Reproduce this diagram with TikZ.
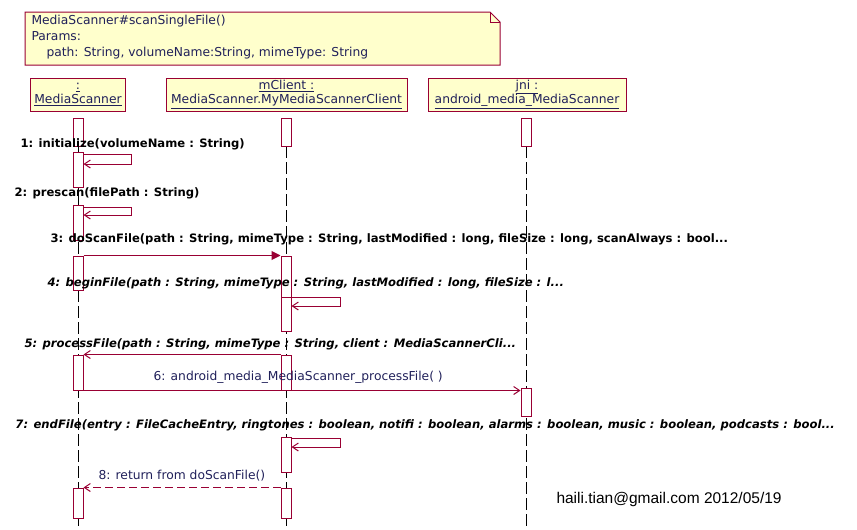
\documentclass[tikz,border=0pt]{standalone}
\usepackage{fontspec}
\setmainfont{DejaVu Sans}
\usetikzlibrary{arrows.meta}
\definecolor{ln}{HTML}{990033}
\definecolor{bx}{HTML}{FFFFCC}
\definecolor{tx}{HTML}{20205A}
\begin{document}
\begin{tikzpicture}[x=1pt,y=-1pt,line width=1pt,
  hd/.style={draw=ln,fill=bx,minimum height=33pt,inner sep=1pt,align=center,font=\fontsize{12.3}{14}\selectfont,text=tx},
  act/.style={draw=ln,fill=white,minimum width=10pt,inner sep=0pt},
  life/.style={black,dash pattern=on 12pt off 4pt},
  msg/.style={ln,-{Straight Barb[length=6pt,width=8pt]}},
  call/.style={ln,-{Triangle[length=9pt,width=9pt]}},
  lbl/.style={anchor=base west,inner sep=0pt,font=\fontsize{11.6}{13}\selectfont\bfseries},
  lbli/.style={lbl,font=\fontsize{11.6}{13}\selectfont\bfseries\itshape},
  lblr/.style={lbl,font=\fontsize{12.3}{14}\selectfont,text=tx}]
\useasboundingbox (0,0) rectangle (857,530);
% note
\draw[ln,fill=bx] (25,12) -- (490,12) -- (500,22) -- (500,65) -- (25,65) -- cycle;
\draw[ln] (490,12) -- (490,22) -- (500,22);
\node[anchor=north west,align=left,inner sep=0pt,font=\fontsize{12.3}{16}\selectfont,text=tx] (note) at (31,15)
 {MediaScanner\#scanSingleFile()\\Params:\\\hspace*{15pt}path: String, volumeName:String, mimeType: String};
% heads
\node[hd,minimum width=95pt] (h1) at (78,94.5) {\underline{:}\\\underline{MediaScanner}};
\node[hd,minimum width=241pt] (h2) at (286.5,94.5) {\underline{mClient :}\\\underline{MediaScanner.MyMediaScannerClient}};
\node[hd,minimum width=198pt] (h3) at (527,94.5) {\underline{jni :}\\\underline{android\_media\_MediaScanner}};
% lifelines
\coordinate (e1) at (78,530); \coordinate (e2) at (286,530); \coordinate (e3) at (526,530);
\draw[life] (78,146) -- (e1);
\draw[life] (286,146) -- (e2);
\draw[life] (526,146) -- (e3);
% top boxes
\node[act,minimum height=28pt] (t1) at (78,132) {};
\node[act,minimum height=28pt] (t2) at (286,132) {};
\node[act,minimum height=28pt] (t3) at (526,132) {};
% activations MediaScanner
\node[act,minimum height=35pt] (a1) at (78,169.5) {};
\node[act,minimum height=35pt] (a2) at (78,222.5) {};
\node[act,minimum height=34pt] (a3) at (78,273) {};
\node[act,minimum height=35pt] (a5) at (78,372.5) {};
\node[act,minimum height=30pt] (a8) at (78,503) {};
% mClient
\node[act,minimum height=41pt] (b3) at (286,276.5) {};
\node[act,minimum height=34pt] (b4) at (286,314) {};
\node[act,minimum height=35pt] (b5) at (286,372.5) {};
\node[act,minimum height=35pt] (b7) at (286,454.5) {};
\node[act,minimum height=30pt] (b8) at (286,503) {};
% jni
\node[act,minimum height=28pt] (c6) at (526,402) {};
% self messages
\coordinate (s1) at (131,154); \coordinate (s1b) at (131,164);
\draw[msg] (a1.north east |- s1) -- (s1) -- (s1b) -- (a1.east |- s1b);
\coordinate (s2) at (131,207); \coordinate (s2b) at (131,215);
\draw[msg] (a2.north east |- s2) -- (s2) -- (s2b) -- (a2.east |- s2b);
\coordinate (s4) at (340,297.5); \coordinate (s4b) at (340,306);
\draw[msg] (b4.north east |- s4) -- (s4) -- (s4b) -- (b4.east |- s4b);
\coordinate (s7) at (340,438); \coordinate (s7b) at (340,447);
\draw[msg] (b7.north east |- s7) -- (s7) -- (s7b) -- (b7.east |- s7b);
% messages
\draw[call] (a3.north east) -- (b3.north west);
\draw[msg] (b5.north west) -- (a5.north east);
\draw[msg] (a5.south east) -- (c6.west |- a5.south east);
\draw[msg,dash pattern=on 8pt off 4pt] (b8.north west) -- (a8.north east);
% labels
\node[lbl] (l1) at (20,147.5) {1: initialize(volumeName : String)};
\node[lbl] (l2) at (14,196.5) {2: prescan(filePath : String)};
\node[lbl] (l3) at (50,242.5) {3: doScanFile(path : String, mimeType : String, lastModified : long, fileSize : long, scanAlways : bool...};
\node[lbli] (l4) at (47,286.5) {4: beginFile(path : String, mimeType : String, lastModified : long, fileSize : l...};
\node[lbli] (l5) at (24,347.5) {5: processFile(path : String, mimeType : String, client : MediaScannerCli...};
\node[lblr] (l6) at (153,380.5) {6: android\_media\_MediaScanner\_processFile( )};
\node[lbli] (l7) at (15,428.5) {7: endFile(entry : FileCacheEntry, ringtones : boolean, notifi : boolean, alarms : boolean, music : boolean, podcasts : bool...};
\node[lblr] (l8) at (98,479.5) {8: return from doScanFile()};
\node[anchor=base west,inner sep=0pt,font=\fontsize{15.5}{17}\selectfont\fontspec{Liberation Sans}] (sig) at (556,503) {haili.tian@gmail.com 2012/05/19};
\end{tikzpicture}
\end{document}
